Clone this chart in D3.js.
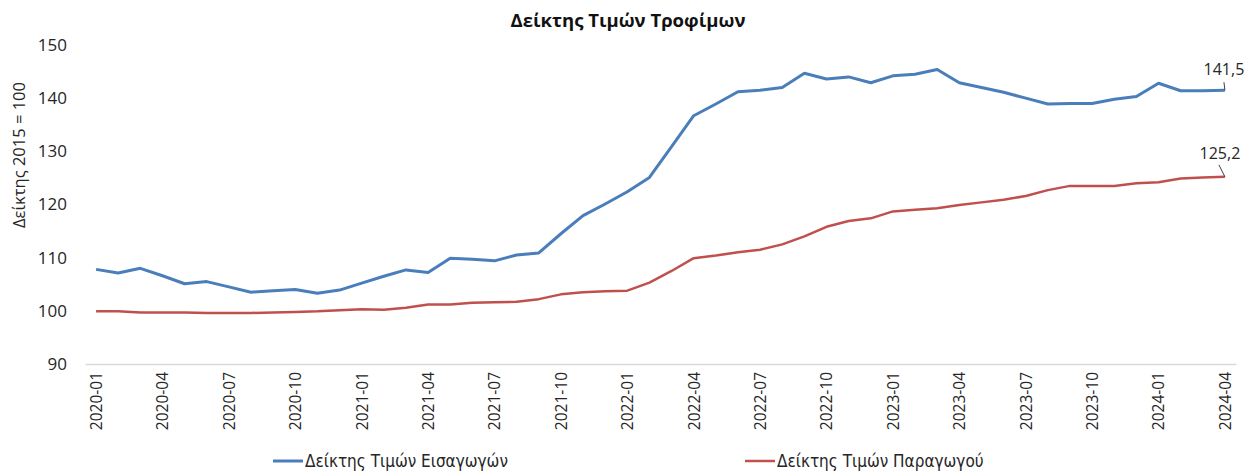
<!DOCTYPE html>
<html lang="el">
	<head>
		<meta charset="utf-8">
		<title>Δείκτης Τιμών Τροφίμων</title>
		<script type="text/javascript" src="https://cdn.jsdelivr.net/npm/d3@7"></script>
		<style type="text/css">
			body{
				margin: 0;
				background: white;
			}
			.headTitle{
				font-family: "Open Sans", sans-serif;
				font-size: 18.5px;
				font-weight: bold;
				fill: #111;
			}
			.axisText{
				font-family: "Open Sans", sans-serif;
				fill: #262626;
			}
			.legend{
				font-family: "Liberation Sans Narrow", "DejaVu Sans Condensed", sans-serif;
				font-size: 17px;
				fill: #262626;
			}
			.valueLabel{
				font-family: "Open Sans", sans-serif;
				font-size: 16px;
				fill: #262626;
			}
		</style>
	</head>
	<body>
		<div class="chart"></div>
		<script type="text/javascript">

			var months = ["2020-01","2020-02","2020-03","2020-04","2020-05","2020-06","2020-07","2020-08","2020-09","2020-10","2020-11","2020-12",
				"2021-01","2021-02","2021-03","2021-04","2021-05","2021-06","2021-07","2021-08","2021-09","2021-10","2021-11","2021-12",
				"2022-01","2022-02","2022-03","2022-04","2022-05","2022-06","2022-07","2022-08","2022-09","2022-10","2022-11","2022-12",
				"2023-01","2023-02","2023-03","2023-04","2023-05","2023-06","2023-07","2023-08","2023-09","2023-10","2023-11","2023-12",
				"2024-01","2024-02","2024-03","2024-04"];

			var tickMonths = ["2020-01","2020-04","2020-07","2020-10","2021-01","2021-04","2021-07","2021-10",
				"2022-01","2022-04","2022-07","2022-10","2023-01","2023-04","2023-07","2023-10","2024-01","2024-04"];

			// Δείκτης Τιμών Εισαγωγών
			var importIdx = [107.8,107.1,108.0,106.6,105.1,105.5,104.5,103.5,103.8,104.0,103.3,103.9,
				105.2,106.5,107.7,107.2,109.9,109.7,109.4,110.5,110.9,114.5,117.9,120.1,
				122.4,125.1,130.9,136.7,138.9,141.2,141.5,142.0,144.7,143.6,144.0,142.9,
				144.2,144.5,145.4,142.9,142.0,141.1,140.0,138.9,139.0,139.0,139.8,140.3,
				142.8,141.4,141.4,141.5];

			// Δείκτης Τιμών Παραγωγού
			var producerIdx = [99.9,99.9,99.7,99.7,99.7,99.6,99.6,99.6,99.7,99.8,99.9,100.1,
				100.3,100.2,100.6,101.2,101.2,101.5,101.6,101.7,102.2,103.1,103.5,103.7,
				103.8,105.3,107.5,109.9,110.4,111.0,111.5,112.5,114.0,115.8,116.9,117.4,
				118.7,119.0,119.3,119.9,120.4,120.9,121.6,122.7,123.5,123.5,123.5,124.0,
				124.2,124.9,125.1,125.2];

			var yTicks = [90,100,110,120,130,140,150];

			var seriesNames = ["Δείκτης Τιμών Εισαγωγών","Δείκτης Τιμών Παραγωγού"];
			var seriesColors = ["#4a7ebb","#c0504d"];

			var w = 1250;
			var h = 471;

			var svg = d3.select("div.chart")
						.append("svg")
						.attr("width", w)
						.attr("height", h);

			var xScale = d3.scalePoint()
						.domain(months)
						.range([85, 1236])
						.padding(0.5);

			var yScale = d3.scaleLinear()
						.domain([90, 150])
						.range([364, 45]);

			// y axis (labels only, no line)
			var yAxis = d3.axisLeft(yScale)
						.tickValues(yTicks)
						.tickSize(0)
						.tickPadding(0)
						.tickFormat(d3.format("d"));

			var gy = svg.append("g")
						.attr("transform", "translate(67,0)")
						.call(yAxis);
			gy.select(".domain").remove();
			gy.selectAll("text")
				.attr("class", "axisText")
				.style("font-size", "17px")
				.attr("font-family", null);

			// x axis
			var xAxis = d3.axisBottom(xScale)
						.tickValues(tickMonths)
						.tickSize(0)
						.tickPadding(0);

			var gx = svg.append("g")
						.attr("transform", "translate(0,364)")
						.call(xAxis);
			gx.select(".domain")
				.attr("stroke", "#d9d9d9")
				.attr("stroke-width", 1.5);
			gx.selectAll("text")
				.attr("class", "axisText")
				.attr("font-family", null)
				.style("font-size", "15.5px")
				.attr("transform", "rotate(-90)")
				.attr("text-anchor", "end")
				.attr("x", -8)
				.attr("y", 0)
				.attr("dy", "0.35em");

			// lines
			var allSeries = [importIdx, producerIdx];

			var line = d3.line()
						.x((d, i) => xScale(months[i]))
						.y((d) => yScale(d));

			svg.selectAll("path.series")
				.data(allSeries)
				.enter()
				.append("path")
				.attr("class", "series")
				.attr("d", line)
				.attr("fill", "none")
				.attr("stroke", (d, i) => seriesColors[i])
				.attr("stroke-width", (d, i) => i === 0 ? 3 : 2.5)
				.attr("stroke-linejoin", "round");

			// last value labels with leader lines
			var fmt = (v) => v.toFixed(1).replace(".", ",");
			var labelOff = [{dx: -1, dy: -15, lx: -1, ly: -8}, {dx: -5, dy: -18, lx: -6, ly: -12}];
			var last = months.length - 1;

			allSeries.forEach(function(s, i){
				var px = xScale(months[last]);
				var py = yScale(s[last]);
				svg.append("line")
					.attr("x1", px + labelOff[i].lx)
					.attr("y1", py + labelOff[i].ly)
					.attr("x2", px)
					.attr("y2", py)
					.attr("stroke", "#404040")
					.attr("stroke-width", 1);
				svg.append("text")
					.attr("class", "valueLabel")
					.attr("x", px + labelOff[i].dx)
					.attr("y", py + labelOff[i].dy)
					.attr("text-anchor", "middle")
					.text(fmt(s[last]));
			});

			// title
			svg.append("text")
				.attr("class", "headTitle")
				.attr("x", 628)
				.attr("y", 27)
				.attr("text-anchor", "middle")
				.text("Δείκτης Τιμών Τροφίμων");

			// y axis title
			svg.append("text")
				.attr("class", "axisText")
				.style("font-size", "16.5px")
				.attr("transform", "translate(25,155) rotate(-90)")
				.attr("text-anchor", "middle")
				.text("Δείκτης 2015 = 100");

			// legend
			var legendX = [273, 745];
			var legend = svg.selectAll("g.legendItem")
						.data(seriesNames)
						.enter()
						.append("g")
						.attr("class", "legendItem")
						.attr("transform", (d, i) => "translate(" + legendX[i] + ",461)");

			legend.append("line")
				.attr("x1", 0)
				.attr("x2", 30)
				.attr("stroke", (d, i) => seriesColors[i])
				.attr("stroke-width", (d, i) => i === 0 ? 3 : 2.5);

			legend.append("text")
				.attr("class", "legend")
				.attr("x", 32)
				.attr("dy", "0.35em")
				.text((d) => d);

		</script>
	</body>
</html>
